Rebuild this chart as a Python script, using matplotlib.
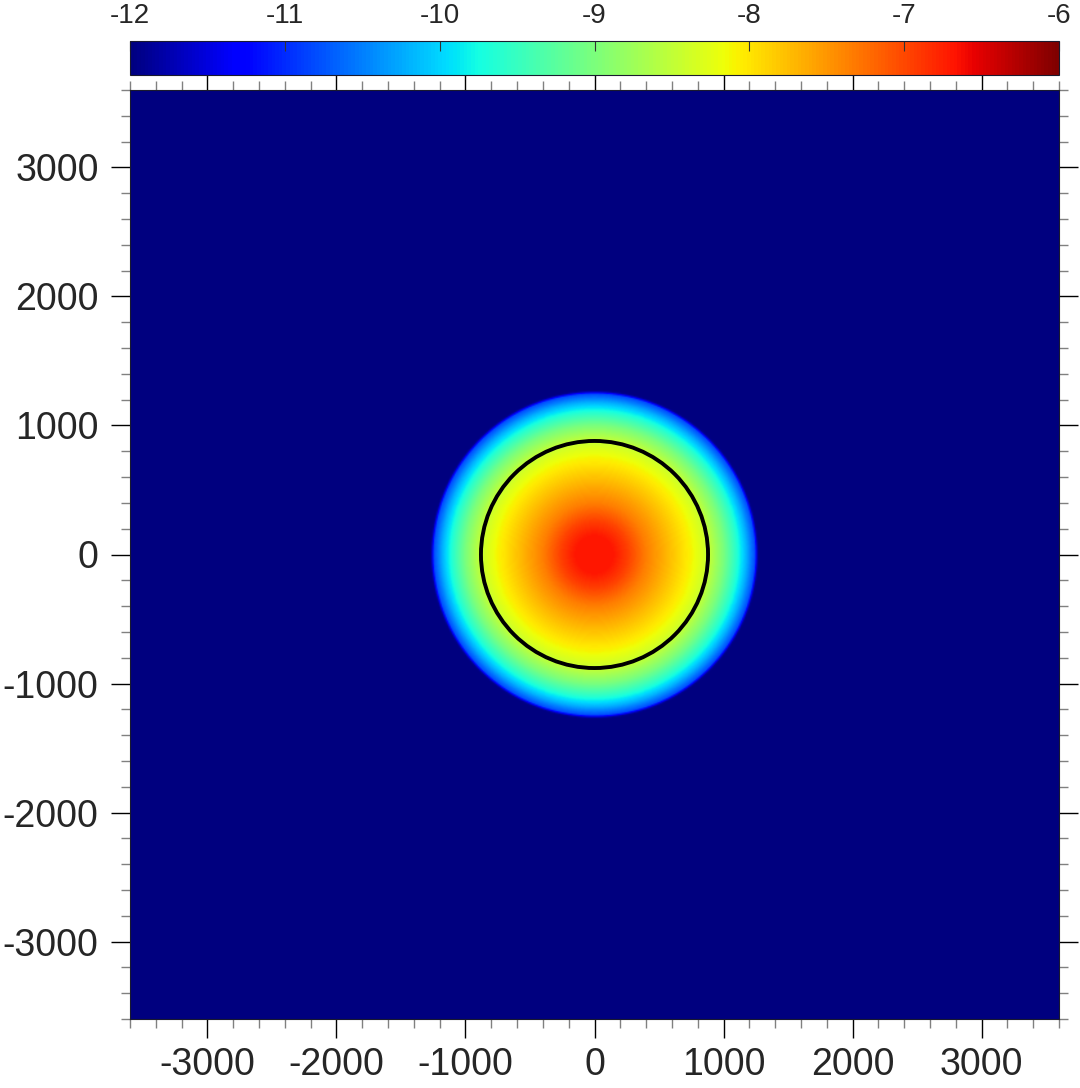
import numpy as np
import matplotlib
matplotlib.use("Agg")
import matplotlib.pyplot as plt
from matplotlib.ticker import MultipleLocator

plt.rcParams['font.family'] = ['Liberation Sans', 'DejaVu Sans']
plt.rcParams['axes.unicode_minus'] = False

# radial profile of the field (log10 value vs radius)
profile_r = [0, 150, 260, 400, 600, 750, 880, 1000, 1100, 1180, 1245, 1268, 1280, 5200]
profile_v = [-6.68, -6.7, -6.95, -7.35, -7.78, -8.1, -8.45, -9.0, -9.6, -10.2, -10.8, -11.9, -12.0, -12.0]
circle_radius = 880
xlim = [-3600, 3600]
ylim = [-3600, 3600]
vmin, vmax = -12, -6
x_ticks = [-3000, -2000, -1000, 0, 1000, 2000, 3000]
cbar_ticks = [-12, -11, -10, -9, -8, -7, -6]

fig = plt.figure(figsize=(10.8, 10.88), dpi=100)
ax = fig.add_axes([130/1080, 1 - 1019/1088, 929/1080, 929/1088])
cax = fig.add_axes([130/1080, 1 - 74.5/1088, 929/1080, 34/1088])

xs = np.linspace(xlim[0], xlim[1], 721)
ys = np.linspace(ylim[0], ylim[1], 721)
X, Y = np.meshgrid(xs, ys)
R = np.hypot(X, Y)
Z = np.interp(R, profile_r, profile_v)

im = ax.imshow(Z, extent=[xlim[0], xlim[1], ylim[0], ylim[1]], origin='lower',
               cmap='jet', vmin=vmin, vmax=vmax, interpolation='bilinear', aspect='auto')
ax.add_patch(plt.Circle((0, 0), circle_radius, fill=False, color='black', lw=2.8))
ax.set_xlim(xlim)
ax.set_ylim(ylim)

tc = '#262626'
ax.set_xticks(x_ticks)
ax.set_yticks(x_ticks)
ax.xaxis.set_minor_locator(MultipleLocator(200))
ax.yaxis.set_minor_locator(MultipleLocator(200))
ax.tick_params(which='major', direction='out', length=13.5, width=1.0, color='black',
               labelsize=27, labelcolor=tc, top=True, right=True, pad=7)
ax.tick_params(which='minor', direction='out', length=6.2, width=1.0, color='#808080',
               top=True, right=True)
ax.tick_params(axis='y', which='major', pad=9)
for s in ax.spines.values():
    s.set_color('#1a1a2e')
    s.set_linewidth(0.8)

cb = fig.colorbar(im, cax=cax, orientation='horizontal', ticklocation='top')
cb.set_ticks(cbar_ticks)
cb.ax.tick_params(direction='in', length=7, width=0.8, color='#333333',
                  labelsize=20, labelcolor=tc, pad=8, top=True, bottom=False)
cb.outline.set_linewidth(0.8)
cb.outline.set_edgecolor('#1a1a2e')

fig.savefig('out.png', dpi=100)
